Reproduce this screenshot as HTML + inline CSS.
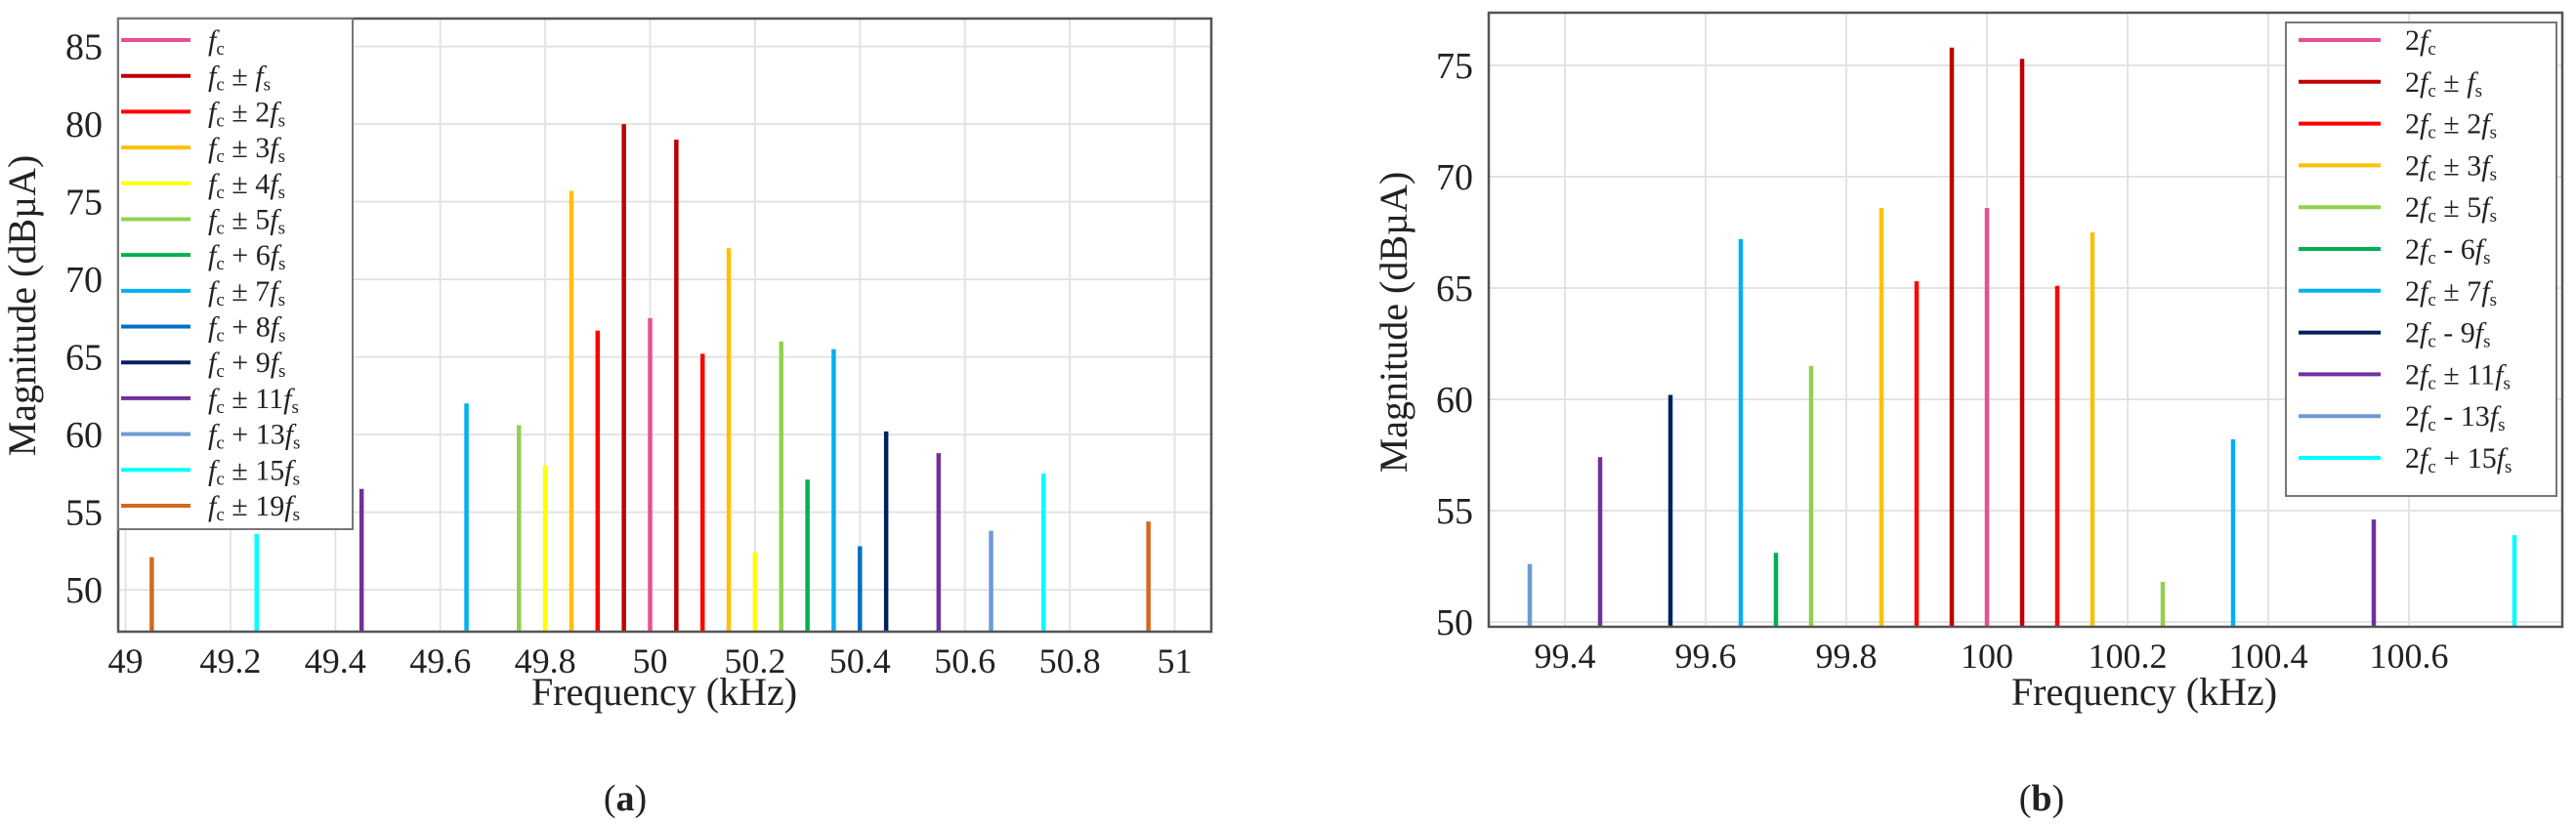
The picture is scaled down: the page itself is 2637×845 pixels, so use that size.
<!DOCTYPE html>
<html><head><meta charset="utf-8"><style>
html,body{margin:0;padding:0;background:#fff;}
svg{display:block;font-family:"Liberation Serif",serif;}
</style></head><body>
<svg id="c" width="2637" height="845" viewBox="0 0 2637 845" xmlns="http://www.w3.org/2000/svg"></svg>
<script>
// ---- Panel (a) data ----
const aOrders = [-19,-15,-11,-7,-5,-4,-3,-2,-1,0,1,2,3,4,5,6,7,8,9,11,13,15,19];
const aValues = [52.1,53.6,56.5,62,60.6,58,75.7,66.7,80,67.5,79,65.2,72,52.4,66,57.1,65.5,52.8,60.2,58.8,53.8,57.5,54.4];
const aXTicks = [49,49.2,49.4,49.6,49.8,50,50.2,50.4,50.6,50.8,51];
const aXTickLabels = ["49","49.2","49.4","49.6","49.8","50","50.2","50.4","50.6","50.8","51"];
const aYTicks = [50,55,60,65,70,75,80,85];
// ---- Panel (b) data ----
const bOrders = [-13,-11,-9,-7,-6,-5,-3,-2,-1,0,1,2,3,5,7,11,15];
const bValues = [52.6,57.4,60.2,67.2,53.1,61.5,68.6,65.3,75.8,68.6,75.3,65.1,67.5,51.8,58.2,54.6,53.9];
const bXTicks = [99.4,99.6,99.8,100,100.2,100.4,100.6];
const bXTickLabels = ["99.4","99.6","99.8","100","100.2","100.4","100.6"];
const bYTicks = [50,55,60,65,70,75];
const fs = 0.05;
const colorOf = {0:"#e7508f",1:"#c00000",2:"#ff0000",3:"#ffc000",4:"#ffff00",5:"#92d050",6:"#00b050",7:"#00b0f0",8:"#0070c0",9:"#002060",11:"#7030a0",13:"#6c9bd2",15:"#00ffff",19:"#d2691e"};
const aLegendOrders = [0,1,2,3,4,5,6,7,8,9,11,13,15,19];
const aLegendOps = ["","±","±","±","±","±","+","±","+","+","±","+","±","±"];
const bLegendOrders = [0,1,2,3,5,6,7,9,11,13,15];
const bLegendOps = ["","±","±","±","±","-","±","-","±","-","+"];

const NS="http://www.w3.org/2000/svg";
const svg=document.getElementById('c');
function mk(tag,attrs,parent){const e=document.createElementNS(NS,tag);for(const k in attrs)e.setAttribute(k,attrs[k]);(parent||svg).appendChild(e);return e;}

function panel(cfg){
  const g=mk('g',{});
  
  
  const X=v=>cfg.x0+(v-cfg.xv0)*cfg.xs;
  const Y=v=>cfg.yb-(v-cfg.ymin)*(cfg.yb-cfg.yt)/(cfg.ymax-cfg.ymin);
  cfg.xt.forEach((t,i)=>{
    const l=mk('line',{x1:X(t),x2:X(t),y1:cfg.yt,y2:cfg.yb,stroke:'#e3e3e3','stroke-width':2},g);
    
    
    const tx=mk('text',{x:X(t),y:cfg.yb+42,'text-anchor':'middle','font-size':36,fill:'#222'},g);
    tx.textContent=cfg.xl[i];
    
    
  });
  cfg.yt_.forEach(t=>{
    const l=mk('line',{x1:cfg.fl,x2:cfg.fr,y1:Y(t),y2:Y(t),stroke:'#e3e3e3','stroke-width':2},g);
    
    
    const tx=mk('text',{x:cfg.fl-16,y:Y(t)+13,'text-anchor':'end','font-size':38,fill:'#222'},g);
    tx.textContent=String(t);
    
    
  });
  cfg.orders.forEach((k,i)=>{
    const f=cfg.center+k*fs;
    const l=mk('line',{x1:X(f),x2:X(f),y1:cfg.yb,y2:Y(cfg.values[i]),stroke:colorOf[Math.abs(k)],'stroke-width':4.5},g);
    
    
  });
  const fr=mk('rect',{x:cfg.fl,y:cfg.yt,width:cfg.fr-cfg.fl,height:cfg.yb-cfg.yt,fill:'none',stroke:'#555','stroke-width':2.5},g);
  
  
  const xt=mk('text',{x:cfg.xlx,y:722,'text-anchor':'middle','font-size':40,fill:'#222'},g);
  xt.textContent='Frequency (kHz)';
  
  
  const yt=mk('text',{x:0,y:0,'text-anchor':'middle','font-size':40,fill:'#222',transform:`translate(${cfg.ylx},${cfg.yly}) rotate(-90)`},g);
  yt.textContent='Magnitude (dBµA)';
  
  
  const cap=mk('text',{x:cfg.capx,y:830,'text-anchor':'middle','font-size':38,fill:'#222'},g);
  cap.innerHTML='(<tspan font-weight="bold">'+cfg.cap+'</tspan>)';
  
  
  const L=cfg.leg;
  const lb=mk('rect',{x:L.x,y:L.y,width:L.w,height:L.h,fill:'#fff',stroke:'#777','stroke-width':2},g);
  
  
  L.orders.forEach((k,i)=>{
    const y=L.ys[0]+i*(L.ys[1]-L.ys[0])/(L.orders.length-1);
    const ln=mk('line',{x1:L.lx1,x2:L.lx2,y1:y,y2:y,stroke:colorOf[k],'stroke-width':4},g);
    
    
    const t=mk('text',{x:L.tx,y:y+10,'font-size':30,fill:'#222'},g);
    let s=(L.pre||'')+'<tspan font-style="italic">f</tspan><tspan font-size="19" dy="5">c</tspan>';
    if(k!==0){ s+='<tspan dy="-5"> '+L.ops[i]+' '+(k===1?'':k)+'</tspan><tspan font-style="italic">f</tspan><tspan font-size="19" dy="5">s</tspan>'; }
    t.innerHTML=s;
    
    
  });
}

panel({name:'panel-a',center:50,orders:aOrders,values:aValues,xt:aXTicks,xl:aXTickLabels,yt_:aYTicks,
  x0:128.5,xv0:49,xs:537,ymin:47.3,ymax:86.8,yt:19,yb:647,fl:121,fr:1240,
  xlx:680,ylx:36,yly:313,capx:640,cap:'a',
  leg:{x:121,y:19,w:240,h:523,lx1:124,lx2:195,tx:213,ys:[41,518],orders:aLegendOrders,ops:aLegendOps,pre:''}});
panel({name:'panel-b',center:100,orders:bOrders,values:bValues,xt:bXTicks,xl:bXTickLabels,yt_:bYTicks,
  x0:1602,xv0:99.4,xs:720,ymin:49.78,ymax:77.37,yt:13,yb:642,fl:1524,fr:2623,
  xlx:2195,ylx:1440,yly:330,capx:2090,cap:'b',
  leg:{x:2340,y:23,w:277,h:485,lx1:2353,lx2:2437,tx:2462,ys:[41,469],orders:bLegendOrders,ops:bLegendOps,pre:'2'}});
</script>
</body></html>
